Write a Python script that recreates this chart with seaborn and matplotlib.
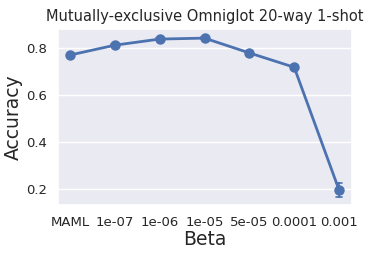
import matplotlib
matplotlib.use("Agg")
import matplotlib.pyplot as plt
import pandas as pd
import seaborn as sns

betas = ["MAML", "1e-07", "1e-06", "1e-05", "5e-05", "0.0001", "0.001"]
acc_mean = [0.770, 0.812, 0.838, 0.842, 0.779, 0.718, 0.196]
acc_err = [0.004, 0.004, 0.004, 0.004, 0.004, 0.004, 0.030]

rows = []
for b, m, e in zip(betas, acc_mean, acc_err):
    for v in (m - e, m, m + e):
        rows.append({"Beta": b, "Accuracy": v})
df = pd.DataFrame(rows)

sns.set_theme(style="darkgrid")
plt.rcParams["font.family"] = ["DejaVu Sans"]

fig, ax = plt.subplots(figsize=(3.81, 2.54), dpi=100)
sns.pointplot(data=df, x="Beta", y="Accuracy", order=betas, color="#4C72B0",
              errorbar=("pi", 100), capsize=0.15, markersize=6, linewidth=2,
              err_kws={"linewidth": 1.2}, ax=ax)
ax.set_xlim(-0.27, 6.29)
ax.set_ylim(0.132, 0.881)
ax.set_yticks([0.2, 0.4, 0.6, 0.8])
ax.set_title("Mutually-exclusive Omniglot 20-way 1-shot", fontsize=10.5)
ax.set_xlabel("Beta", fontsize=13.5, labelpad=1)
ax.set_ylabel("Accuracy", fontsize=13.5, labelpad=2)
ax.tick_params(axis="both", labelsize=9.5, pad=2)
fig.subplots_adjust(left=0.152, right=0.924, top=0.886, bottom=0.193)
fig.savefig("out.png", dpi=100)
